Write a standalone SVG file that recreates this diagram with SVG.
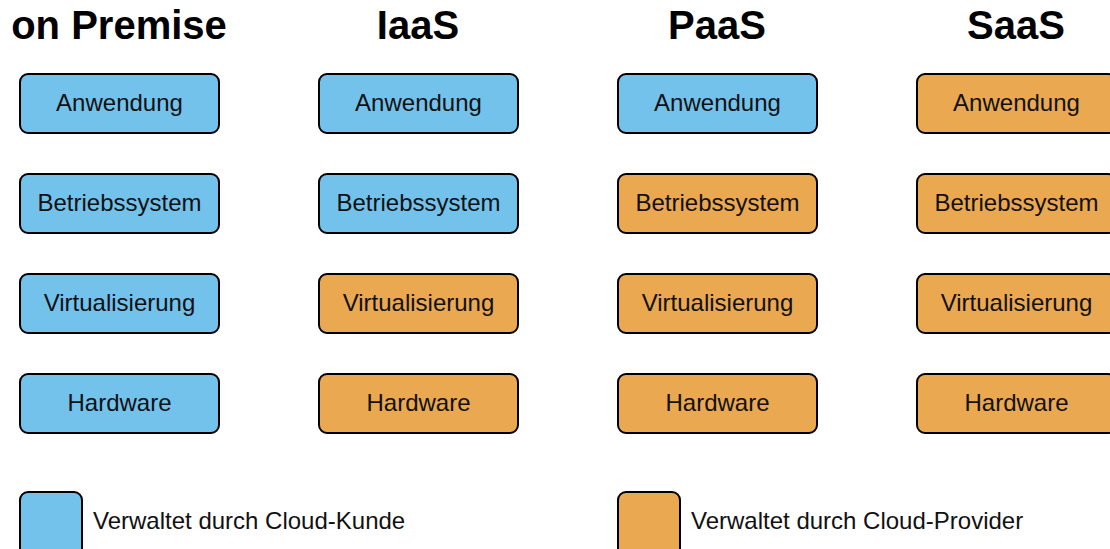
<svg xmlns="http://www.w3.org/2000/svg" width="1110" height="549" viewBox="0 0 1110 549">
  <style>
    .box { stroke: #000; stroke-width: 2; }
    .cust { fill: #73C2EC; }
    .prov { fill: #EAA851; }
    .lbl { font-family: "Liberation Sans", Arial, sans-serif; font-size: 24px; fill: #111; text-anchor: middle; dominant-baseline: central; }
    .head { font-family: "Liberation Sans", Arial, sans-serif; font-size: 40px; font-weight: bold; fill: #000; text-anchor: middle; }
    .leg { font-family: "Liberation Sans", Arial, sans-serif; font-size: 24px; fill: #111; }
  </style>

  <!-- column headings -->
  <g id="headings">
    <text class="head" x="119" y="39">on Premise</text>
    <text class="head" x="418" y="39">IaaS</text>
    <text class="head" x="717" y="39">PaaS</text>
    <text class="head" x="1016" y="39">SaaS</text>
  </g>

  <g id="connectors"></g>

  <!-- on Premise -->
  <g id="onprem-anwendung"><rect class="box cust" x="20" y="74" width="199" height="59" rx="8"/><text class="lbl" x="119.5" y="102.5">Anwendung</text></g>
  <g id="onprem-betriebssystem"><rect class="box cust" x="20" y="174" width="199" height="59" rx="8"/><text class="lbl" x="119.5" y="202.5">Betriebssystem</text></g>
  <g id="onprem-virtualisierung"><rect class="box cust" x="20" y="274" width="199" height="59" rx="8"/><text class="lbl" x="119.5" y="302.5">Virtualisierung</text></g>
  <g id="onprem-hardware"><rect class="box cust" x="20" y="374" width="199" height="59" rx="8"/><text class="lbl" x="119.5" y="402.5">Hardware</text></g>

  <!-- IaaS -->
  <g id="iaas-anwendung"><rect class="box cust" x="319" y="74" width="199" height="59" rx="8"/><text class="lbl" x="418.5" y="102.5">Anwendung</text></g>
  <g id="iaas-betriebssystem"><rect class="box cust" x="319" y="174" width="199" height="59" rx="8"/><text class="lbl" x="418.5" y="202.5">Betriebssystem</text></g>
  <g id="iaas-virtualisierung"><rect class="box prov" x="319" y="274" width="199" height="59" rx="8"/><text class="lbl" x="418.5" y="302.5">Virtualisierung</text></g>
  <g id="iaas-hardware"><rect class="box prov" x="319" y="374" width="199" height="59" rx="8"/><text class="lbl" x="418.5" y="402.5">Hardware</text></g>

  <!-- PaaS -->
  <g id="paas-anwendung"><rect class="box cust" x="618" y="74" width="199" height="59" rx="8"/><text class="lbl" x="717.5" y="102.5">Anwendung</text></g>
  <g id="paas-betriebssystem"><rect class="box prov" x="618" y="174" width="199" height="59" rx="8"/><text class="lbl" x="717.5" y="202.5">Betriebssystem</text></g>
  <g id="paas-virtualisierung"><rect class="box prov" x="618" y="274" width="199" height="59" rx="8"/><text class="lbl" x="717.5" y="302.5">Virtualisierung</text></g>
  <g id="paas-hardware"><rect class="box prov" x="618" y="374" width="199" height="59" rx="8"/><text class="lbl" x="717.5" y="402.5">Hardware</text></g>

  <!-- SaaS -->
  <g id="saas-anwendung"><rect class="box prov" x="917" y="74" width="199" height="59" rx="8"/><text class="lbl" x="1016.5" y="102.5">Anwendung</text></g>
  <g id="saas-betriebssystem"><rect class="box prov" x="917" y="174" width="199" height="59" rx="8"/><text class="lbl" x="1016.5" y="202.5">Betriebssystem</text></g>
  <g id="saas-virtualisierung"><rect class="box prov" x="917" y="274" width="199" height="59" rx="8"/><text class="lbl" x="1016.5" y="302.5">Virtualisierung</text></g>
  <g id="saas-hardware"><rect class="box prov" x="917" y="374" width="199" height="59" rx="8"/><text class="lbl" x="1016.5" y="402.5">Hardware</text></g>

  <!-- legend -->
  <g id="legend-kunde"><rect class="box cust" x="20" y="492" width="62" height="70" rx="8"/><text class="leg" x="93" y="529">Verwaltet durch Cloud-Kunde</text></g>
  <g id="legend-provider"><rect class="box prov" x="618" y="492" width="62" height="70" rx="8"/><text class="leg" x="691" y="529">Verwaltet durch Cloud-Provider</text></g>
</svg>
